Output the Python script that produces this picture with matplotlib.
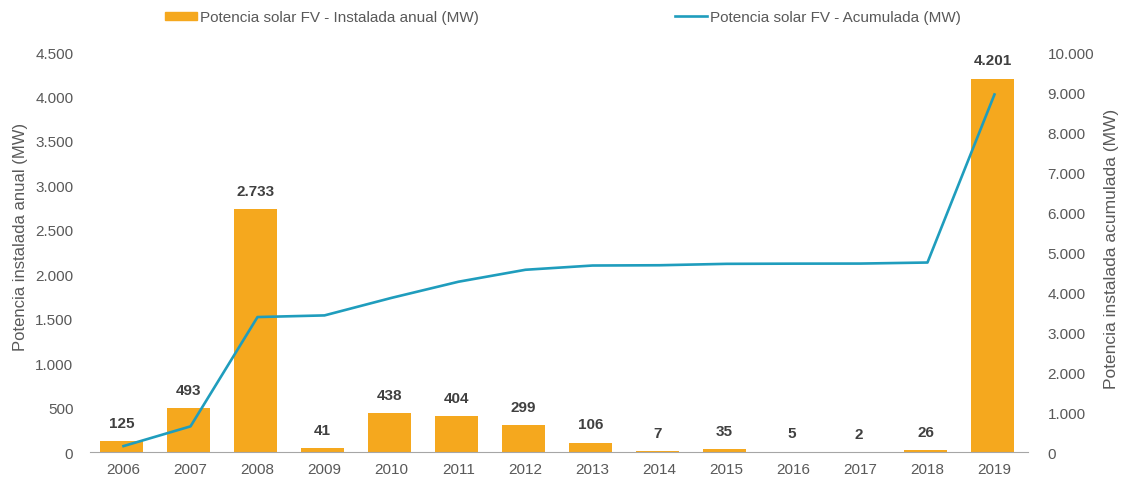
import matplotlib.pyplot as plt
from matplotlib.patches import Patch
from matplotlib.lines import Line2D
from matplotlib.ticker import FuncFormatter

plt.rcParams['font.family'] = ['Liberation Sans', 'DejaVu Sans']

years = ["2006", "2007", "2008", "2009", "2010", "2011", "2012",
         "2013", "2014", "2015", "2016", "2017", "2018", "2019"]
anual = [125, 493, 2733, 41, 438, 404, 299, 106, 7, 35, 5, 2, 26, 4201]
acumulada = [148, 641, 3374, 3415, 3853, 4257, 4556, 4662, 4669, 4704,
             4709, 4711, 4737, 8938]

bar_color = "#F5A81E"
line_color = "#1F9DBD"
text_gray = "#595959"


def miles(v, pos=None):
    return f"{int(round(v)):,}".replace(",", ".")


fig = plt.figure(figsize=(11.21, 4.81), dpi=100)
ax = fig.add_axes([0.0803, 0.0582, 0.8367, 0.8316])
ax2 = ax.twinx()

x = range(len(years))
ax.bar([i - 0.03 for i in x], anual, width=0.65, color=bar_color, zorder=2)
ax2.plot(x, acumulada, color=line_color, linewidth=1.9, zorder=3)

ax.set_xlim(-0.5, len(years) - 0.5)
ax.set_ylim(0, 4500)
ax.set_yticks(range(0, 4501, 500))
ax2.set_ylim(0, 10000)
ax2.set_yticks(range(0, 10001, 1000))
ax.yaxis.set_major_formatter(FuncFormatter(miles))
ax2.yaxis.set_major_formatter(FuncFormatter(miles))
ax.set_xticks(list(x))
ax.set_xticklabels(years)

for a in (ax, ax2):
    for s in ("top", "left", "right", "bottom"):
        a.spines[s].set_visible(False)
    a.tick_params(length=0, labelsize=11, labelcolor=text_gray)
ax.spines["bottom"].set_visible(True)
ax.spines["bottom"].set_color("#A6A6A6")
ax.tick_params(axis="y", pad=12)
ax.tick_params(axis="x", pad=7)
ax2.tick_params(axis="y", pad=14)

ax.set_ylabel("Potencia instalada anual (MW)", fontsize=12, color=text_gray)
ax.yaxis.set_label_coords(-0.066, 0.54)
ax2.set_ylabel("Potencia instalada acumulada (MW)", fontsize=12.5, color=text_gray)
ax2.yaxis.set_label_coords(1.081, 0.51)

# value labels drawn on the top axes so their white box hides the line
for xi, v in zip(x, anual):
    ax2.annotate(miles(v), (xi - 0.03, v), xycoords=ax.transData,
                 xytext=(0, 8), textcoords="offset points",
                 ha="center", va="bottom", fontsize=11, fontweight="bold",
                 color="#404040", zorder=4,
                 bbox=dict(boxstyle="square,pad=0.1", fc="white", ec="none"))

handles = [Patch(color=bar_color), Line2D([], [], color=line_color, linewidth=1.9)]
labels = ["Potencia solar FV - Instalada anual (MW)",
          "Potencia solar FV - Acumulada (MW)"]
fig.legend(handles, labels, loc="center", bbox_to_anchor=(0.502, 0.962), ncol=2,
           frameon=False, fontsize=11, labelcolor=text_gray, handlelength=2.1,
           handleheight=0.5, handletextpad=0.2, columnspacing=12.8)

fig.savefig("out.png", dpi=100)
